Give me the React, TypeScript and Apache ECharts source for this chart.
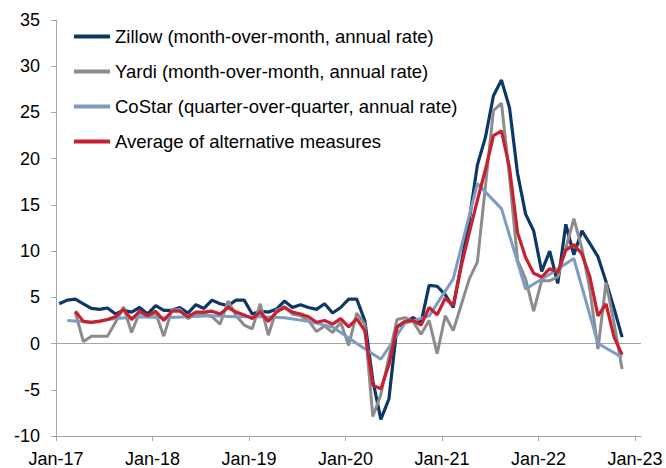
import React, { useEffect, useRef } from "react";
import * as echarts from "echarts";

// Month index counted from Jan-17 (0); points sit mid-month
const MID_MONTH = 0.4;

const xTickMonths = [0, 12, 24, 36, 48, 60, 72];
const xTickLabels = ["Jan-17", "Jan-18", "Jan-19", "Jan-20", "Jan-21", "Jan-22", "Jan-23"];

// Zillow: monthly, Jan-17 .. Nov-22
const zillowStart = 0;
const zillow = [
  4.3, 4.7, 4.8, 4.3, 3.8, 3.7, 3.85, 3.2, 3.6, 3.4, 3.9, 3.2,
  4.1, 3.6, 3.6, 3.9, 3.3, 4.2, 3.8, 4.7, 4.3, 4.1, 4.7, 4.7,
  3.2, 3.5, 3.4, 3.7, 4.6, 3.9, 4.2, 3.9, 3.7, 4.3, 3.3, 3.9,
  4.8, 4.8, 2.5, -4.0, -8.2, -6.0, 1.8, 2.3, 2.8, 2.3, 6.3, 6.2,
  5.3, 3.9, 8.6, 13.4, 19.3, 22.3, 26.8, 28.5, 25.5, 18.4, 14.0, 12.2,
  7.8, 10.0, 6.5, 12.9, 9.6, 12.2, 10.8, 9.4, 6.7, 3.8, 0.7,
];

// Yardi: monthly, Mar-17 .. Nov-22
const yardiStart = 2;
const yardi = [
  3.4, 0.2, 0.8, 0.8, 0.8, 2.3, 3.95, 1.2, 3.4, 2.9,
  3.3, 0.8, 3.6, 3.7, 2.7, 3.2, 3.2, 2.9, 2.1, 4.6, 3.0, 2.0,
  1.6, 4.3, 0.9, 3.6, 4.0, 3.2, 3.0, 2.5, 1.3, 1.9, 1.2, 2.3,
  -0.2, 3.3, 2.1, -7.9, -5.5, -1.5, 2.6, 2.8, 2.4, 1.0, 2.5, -1.1,
  3.0, 1.4, 4.2, 7.0, 8.8, 17.0, 25.2, 26.0, 18.0, 9.0, 7.0, 3.5,
  6.8, 6.8, 7.2, 10.3, 13.5, 10.3, 5.8, -0.6, 6.6, 2.2, -2.75,
];

// CoStar: quarterly, plotted at mid-quarter month (Feb-17 .. Nov-22)
const costarStart = 1;
const costarStep = 3;
const costar = [
  2.5, 2.3, 2.7, 2.9, 2.8, 2.9, 3.0, 2.9, 2.9, 2.8, 2.4, 1.8,
  0.0, -1.7, 2.2, 3.0, 7.0, 17.3, 14.6, 5.9, 7.5, 9.2, 0.0, -1.5,
];

// Average of alternative measures: monthly, Mar-17 .. Nov-22
const averageStart = 2;
const average = [
  3.5, 2.4, 2.3, 2.4, 2.6, 2.9, 3.7, 2.6, 3.5, 3.0,
  3.5, 2.5, 3.5, 3.5, 2.9, 3.4, 3.4, 3.5, 3.2, 3.9, 3.4, 3.1,
  2.7, 3.4, 2.4, 3.4, 3.9, 3.4, 3.2, 2.9, 2.3, 2.5, 2.1, 2.7,
  1.8, 2.7, 1.4, -4.5, -4.9, -2.3, 1.8, 2.4, 2.5, 2.0, 3.9, 3.1,
  4.9, 4.1, 8.4, 12.0, 15.5, 18.8, 22.5, 23.0, 19.0, 12.0, 9.3, 7.6,
  7.2, 8.1, 7.7, 10.1, 10.7, 9.7, 7.2, 3.0, 4.3, 0.7, -1.2,
];

const seriesNames = [
  "Zillow (month-over-month, annual rate)",
  "Yardi (month-over-month, annual rate)",
  "CoStar (quarter-over-quarter, annual rate)",
  "Average of alternative measures",
];
const seriesColors = ["#0c3866", "#8c8c8c", "#7c9cc4", "#c8202f"];

const toPoints = (vals: number[], start: number, step = 1) =>
  vals.map((v, i) => [start + i * step + MID_MONTH, v]);

const FONT = "'Liberation Sans', Arial, sans-serif";
const AXIS_COLOR = "#a6a6a6";

export default function App() {
  const ref = useRef<HTMLDivElement>(null);

  useEffect(() => {
    document.body.style.margin = "0";
    if (!ref.current) return;
    const chart = echarts.init(ref.current, undefined, { renderer: "svg" });
    const datasets = [
      toPoints(zillow, zillowStart),
      toPoints(yardi, yardiStart),
      toPoints(costar, costarStart, costarStep),
      toPoints(average, averageStart),
    ];
    chart.setOption({
      animation: false,
      textStyle: { fontFamily: FONT },
      grid: { left: 56, right: 25, top: 20, bottom: 32, containLabel: false },
      legend: {
        orient: "vertical",
        left: 74,
        top: 27,
        padding: 0,
        icon: "rect",
        itemWidth: 36,
        itemHeight: 4,
        itemGap: 16,
        textStyle: { fontSize: 18.5, color: "#000", fontFamily: FONT, lineHeight: 19 },
        data: seriesNames,
      },
      xAxis: {
        type: "value",
        min: 0,
        max: 72.75,
        axisLine: { show: true, onZero: false, lineStyle: { color: AXIS_COLOR, width: 1 } },
        axisTick: { show: true, length: 5, customValues: xTickMonths, lineStyle: { color: AXIS_COLOR } },
        axisLabel: {
          customValues: xTickMonths,
          formatter: (v: number) => {
            const i = xTickMonths.indexOf(Math.round(v));
            return i >= 0 ? xTickLabels[i] : "";
          },
          fontSize: 18,
          color: "#000",
          fontFamily: FONT,
          margin: 14,
        },
        splitLine: { show: false },
      },
      yAxis: {
        type: "value",
        min: -10,
        max: 35,
        interval: 5,
        axisLine: { show: true, onZero: false, lineStyle: { color: AXIS_COLOR, width: 1 } },
        axisTick: { show: true, length: 5, lineStyle: { color: AXIS_COLOR } },
        axisLabel: { fontSize: 18, color: "#000", fontFamily: FONT, margin: 16 },
        splitLine: { show: false },
      },
      series: datasets.map((data, i) => ({
        name: seriesNames[i],
        type: "line",
        data,
        symbol: "none",
        showSymbol: false,
        lineStyle: { color: seriesColors[i], width: i === 1 || i === 2 ? 3 : 3.2 },
        itemStyle: { color: seriesColors[i] },
        z: 2 + i,
        ...(i === 0
          ? {
              markLine: {
                silent: true,
                symbol: "none",
                label: { show: false },
                lineStyle: { color: AXIS_COLOR, width: 1, type: "solid" },
                data: [{ yAxis: 0 }],
                z: 1,
              },
            }
          : {}),
      })),
    });
    return () => chart.dispose();
  }, []);

  return <div ref={ref} style={{ width: 666, height: 468 }} />;
}
